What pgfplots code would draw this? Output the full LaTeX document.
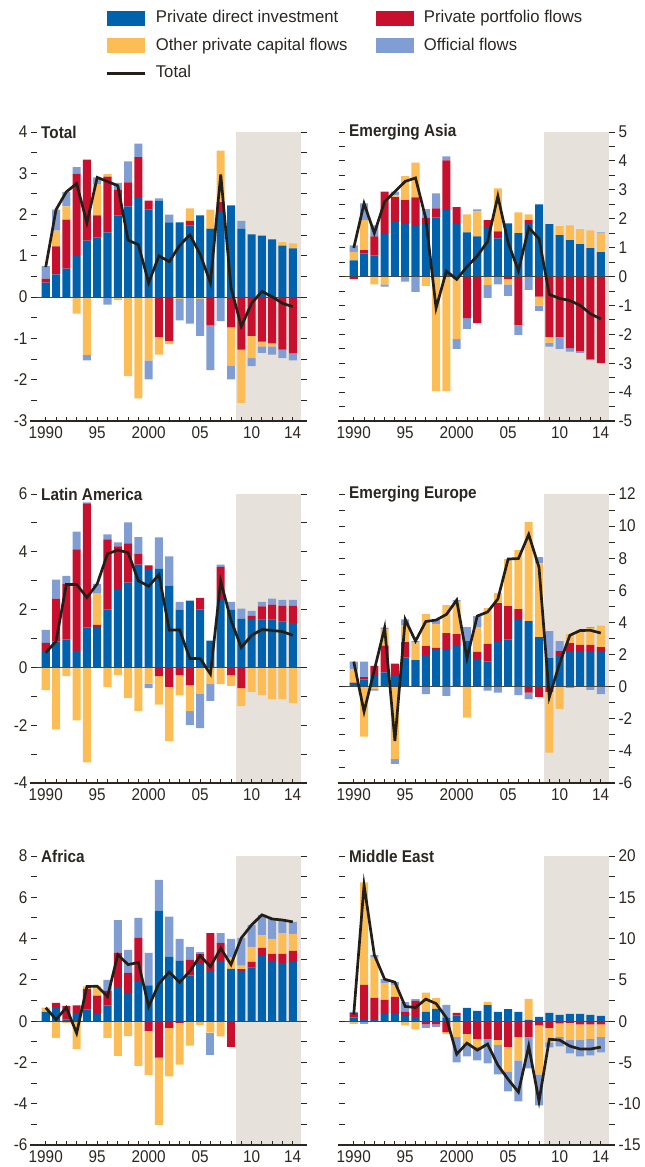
\documentclass[border=0pt]{standalone}
\usepackage{pgfplots}
\pgfplotsset{compat=1.18}
\usepackage{pgfplotstable}
\usepackage{fontspec}
\setmainfont{Liberation Sans}[FakeStretch=0.9]
\newfontfamily\legfont{Liberation Sans}[FakeStretch=0.98]

\definecolor{pdi}{HTML}{0061AD}
\definecolor{ppf}{HTML}{C8102E}
\definecolor{opc}{HTML}{FDBD56}
\definecolor{ofl}{HTML}{809ED3}
\definecolor{shadec}{HTML}{E6E2DB}
\definecolor{totc}{HTML}{231F18}
\definecolor{txtc}{HTML}{2B2620}
\definecolor{zeroc}{HTML}{4A4640}

\newcommand{\chartfont}{\fontsize{17pt}{19pt}\selectfont}

% year, positive parts (direct, portfolio, other, official), negative parts, total
\pgfplotstableread{
year dp pp op fp pn on fn tot
1990 0.35 0.10 0 0.30 0 -0.02 0 0.73
1991 0.55 0.68 0.38 0.51 0 0 0 2.12
1992 0.69 1.19 0.32 0.35 0 0 0 2.55
1993 1.00 1.99 0 0.16 0 -0.40 0 2.75
1994 1.37 1.96 0 0 0 -1.40 -0.13 1.80
1995 1.44 0.54 0.76 0.16 0 0 0 2.90
1996 1.57 1.35 0.06 0 0 0 -0.18 2.80
1997 1.98 0.62 0 0.17 0 -0.07 0 2.70
1998 2.20 0.58 0 0.51 0 -1.91 0 1.38
1999 2.42 0.97 0 0.33 0 -2.45 0 1.27
2000 2.12 0.22 0 0 0 -1.53 -0.46 0.35
2001 2.34 0 0 0.05 -0.97 -0.42 0 1.00
2002 1.81 0 0 0.19 -1.06 -0.08 0 0.86
2003 1.81 0 0 0 0 -0.04 -0.52 1.25
2004 1.73 0.12 0.30 0 0 0 -0.64 1.51
2005 1.98 0 0 0 0 -0.04 -0.90 1.04
2006 1.66 0 0.46 0 -0.68 0 -1.09 0.35
2007 2.06 0.24 1.25 0 0 0 -0.58 2.97
2008 2.22 0 0 0 -0.73 -0.92 -0.34 0.23
2009 1.66 0 0 0.19 -1.27 -1.29 0 -0.71
2010 1.52 0 0 0 -0.94 -0.54 -0.19 -0.15
2011 1.49 0 0 0 -1.08 -0.11 -0.16 0.14
2012 1.40 0 0 0 -1.12 -0.07 -0.20 0.01
2013 1.25 0 0.08 0 -1.27 0 -0.21 -0.15
2014 1.18 0 0.12 0 -1.36 0 -0.17 -0.23
}\tabTotal

\pgfplotstableread{
year dp pp op fp pn on fn tot
1990 0.56 0 0.29 0.23 -0.09 0 0 0.99
1991 0.79 0.12 1.04 0.58 0 0 0 2.53
1992 0.73 0.66 0 0.38 0 -0.27 0 1.50
1993 1.47 1.47 0 0 0 -0.27 -0.08 2.59
1994 1.89 0.86 0.06 0.13 0 0 0 2.94
1995 1.82 0.82 0.83 0 0 0 -0.18 3.29
1996 1.75 0.99 1.20 0 0 0 -0.53 3.41
1997 1.82 0.22 0 0.29 0 -0.32 0 2.01
1998 2.05 0.31 0 0.52 0 -3.97 0 -1.09
1999 2.30 1.72 0 0.14 0 -3.97 0 0.19
2000 1.81 0.59 0 0 0 -2.17 -0.33 -0.10
2001 1.53 0 0.62 0 -1.44 0 -0.37 0.34
2002 1.39 0 0.86 0.07 -1.61 0 0 0.71
2003 1.67 0.28 0 0 0 -0.30 -0.44 1.21
2004 1.32 0.24 1.49 0 0 0 -0.27 2.78
2005 1.84 0 0 0 -0.09 -0.18 -0.40 1.17
2006 1.50 0 0.72 0 -1.67 0 -0.35 0.20
2007 1.81 0.14 0.20 0 0 0 -0.46 1.69
2008 2.50 0 0 0 -0.70 -0.31 -0.18 1.31
2009 1.81 0 0 0 -2.09 -0.20 -0.14 -0.62
2010 1.43 0 0.31 0 -2.09 0 -0.41 -0.76
2011 1.26 0 0.51 0 -2.48 0 -0.12 -0.83
2012 1.12 0 0.52 0 -2.58 0 -0.06 -1.00
2013 0.98 0 0.62 0 -2.87 0 -0.02 -1.29
2014 0.84 0 0.66 0.03 -3.00 0 0 -1.47
}\tabAsia

\pgfplotstableread{
year dp pp op fp pn on fn tot
1990 0.56 0.29 0 0.45 0 -0.79 0 0.51
1991 0.90 1.48 0 0.66 0 -2.14 0 0.90
1992 0.97 1.93 0 0.27 0 -0.30 0 2.87
1993 0.57 3.51 0 0.62 0 -1.83 0 2.87
1994 1.38 4.30 0 0.03 0 -3.29 0 2.42
1995 1.40 0.07 1.08 0.34 0 0 0 2.89
1996 2.00 2.43 0 0.17 0 -0.67 0 3.93
1997 2.72 1.47 0 0.14 0 -0.27 0 4.06
1998 2.93 1.36 0 0.73 0 -1.05 0 3.97
1999 3.56 0.38 0 0.57 0 -1.51 0 3.00
2000 3.40 0.13 0 0 0 -0.56 -0.16 2.81
2001 3.41 0 0 1.09 -0.30 -0.99 0 3.21
2002 2.83 0 0 1.01 -0.67 -1.88 0 1.29
2003 2.00 0 0 0.27 -0.27 -0.70 0 1.30
2004 2.31 0 0 0 -0.61 -0.90 -0.49 0.31
2005 2.00 0.41 0 0 0 -0.92 -1.18 0.31
2006 0.93 0 0 0 0 -0.58 -0.58 -0.23
2007 2.36 1.12 0 0.08 0 -0.58 0 2.98
2008 1.99 0 0 0.28 -0.27 -0.37 0 1.63
2009 1.68 0 0 0.35 -0.72 -0.62 0 0.69
2010 1.68 0.10 0 0.18 0 -0.85 0 1.11
2011 1.65 0.46 0 0.16 0 -0.96 0 1.31
2012 1.65 0.52 0 0.21 0 -1.10 0 1.28
2013 1.59 0.54 0 0.21 0 -1.10 0 1.24
2014 1.53 0.60 0 0.21 0 -1.23 0 1.11
}\tabLatam

\pgfplotstableread{
year dp pp op fp pn on fn tot
1990 0.17 0.08 0.85 0.46 0 0 0 1.56
1991 0.46 0.14 0 0.96 0 -3.11 0 -1.55
1992 0.66 0.63 0 0 0 -0.15 -0.10 1.04
1993 0.89 1.66 1.04 0.08 0 0 0 3.67
1994 0.68 0.75 0 0 0 -4.50 -0.31 -3.38
1995 1.83 0.95 1.02 0.39 0 0 0 4.19
1996 1.66 0 1.08 0.10 0 0 0 2.84
1997 1.97 0.56 1.99 0 0 0 -0.46 4.06
1998 2.28 0.13 1.49 0.25 0 0 0 4.15
1999 2.28 1.06 1.74 0 0 0 -0.58 4.50
2000 2.53 0.75 2.01 0.10 0 0 0 5.39
2001 2.84 0 0 0.87 0 -1.93 0 1.78
2002 1.72 0.44 1.55 0.69 0 0 0 4.40
2003 1.56 1.10 2.24 0 0 0 -0.25 4.65
2004 2.84 2.37 0.62 0 0 0 -0.37 5.46
2005 2.95 2.07 2.93 0 0 0 0 7.95
2006 4.15 0.68 3.67 0 0 0 -0.52 7.98
2007 4.09 0 6.16 0 -0.37 0 -0.40 9.48
2008 3.09 0 4.59 0.39 -0.64 0 0 7.43
2009 1.78 0 0 1.68 -0.33 -3.78 0 -0.65
2010 1.91 0.31 0 0.62 0 -1.39 0 1.45
2011 2.16 0.56 0.56 0 0 0 -0.08 3.20
2012 2.16 0.45 0.89 0 0 0 0 3.50
2013 2.16 0.45 1.04 0.06 0 0 -0.20 3.51
2014 2.16 0.31 1.33 0 0 0 -0.46 3.34
}\tabEurope

\pgfplotstableread{
year dp pp op fp pn on fn tot
1990 0.45 0 0.20 0 0 0 0 0.65
1991 0.68 0.21 0 0 0 -0.81 0 0.08
1992 0.08 0.66 0 0 0 -0.08 0 0.66
1993 0.40 0.36 0 0 0 -1.34 0 -0.58
1994 0.56 1.00 0.12 0 0 0 0 1.68
1995 0.35 0.89 0.45 0 0 0 0 1.69
1996 0.76 0.71 0 0.53 0 -0.81 0 1.19
1997 1.66 1.66 0 1.58 0 -1.68 0 3.22
1998 1.37 0.97 0 1.11 0 -0.71 0 2.74
1999 1.95 2.08 0 0.97 0 -2.16 0 2.84
2000 1.73 0 0 1.58 -0.47 -2.13 0 0.71
2001 5.35 0 0 1.49 -1.77 -3.25 0 1.82
2002 3.11 0 0 1.95 -0.32 -2.36 0 2.38
2003 2.92 0 0 1.06 -0.08 -2.02 0 1.88
2004 2.21 0.76 0 0.63 0 -1.18 0 2.42
2005 2.77 0.50 0 0.08 0 -0.18 0 3.17
2006 2.44 1.83 0 0 0 -0.55 -1.08 2.64
2007 2.92 0.87 0 0.48 0 -0.74 0 3.53
2008 2.53 0 0.55 0.90 -1.24 0 0 2.74
2009 2.44 0.08 0.17 1.34 0 0 0 4.03
2010 2.60 0.27 0.73 1.06 0 0 0 4.66
2011 3.16 0.39 0.60 1.00 0 0 0 5.15
2012 2.92 0.34 0.72 0.97 0 0 0 4.95
2013 2.82 0.44 1.01 0.63 0 0 0 4.90
2014 2.87 0.53 0.83 0.58 0 0 0 4.81
}\tabAfrica

\pgfplotstableread{
year dp pp op fp pn on fn tot
1990 0.44 0.56 0 0.13 0 -0.32 0 0.81
1991 0.16 4.24 12.40 0 0 0 -0.32 16.48
1992 0.24 2.58 4.88 0.32 0 0 0 8.02
1993 0.89 1.69 2.02 0.48 0 0 0 5.08
1994 0.89 2.05 1.46 0.32 0 0 0 4.72
1995 0.65 0.48 0 1.17 0 -0.52 0 1.78
1996 0.52 1.94 0 0.20 0 -1.01 0 1.65
1997 1.13 0 2.34 0 -0.40 0 -0.40 2.67
1998 1.49 0 1.33 0 -0.40 0 -0.29 2.13
1999 0.40 0 0 1.58 -1.33 -0.24 0 0.41
2000 0.69 0.31 0 0 0 -1.90 -3.10 -4.00
2001 1.61 0 0 0 -1.53 -1.09 -1.65 -2.66
2002 1.25 0 0 0 -2.14 -0.96 -1.66 -3.51
2003 1.94 0 0.40 0 -2.14 0 -2.98 -2.78
2004 1.13 0 0 0 -2.26 -0.60 -3.59 -5.32
2005 1.45 0 0 0 -3.10 -2.99 -2.41 -7.05
2006 1.13 0 0 0 -1.90 -2.86 -4.96 -8.59
2007 0.16 0 2.54 0 -1.90 0 -3.83 -3.03
2008 0.52 0 0 0 -0.52 -5.93 -3.75 -9.68
2009 1.00 0 0 0 -0.81 -1.77 -0.61 -2.19
2010 0.77 0 0 0 -0.28 -1.62 -1.16 -2.29
2011 0.89 0 0 0 -0.20 -2.06 -1.65 -3.02
2012 0.89 0 0 0 -0.40 -1.86 -2.01 -3.38
2013 0.77 0 0 0 -0.40 -1.74 -2.01 -3.38
2014 0.65 0 0 0 -0.40 -1.50 -1.89 -3.14
}\tabMideast

\pgfplotsset{
  common/.style={scale only axis, width=264pt, height=289pt,
    xmin=1989.15, xmax=2014.8, anchor=north west},
  base/.style={common, axis line style={draw=none}, xtick=\empty,
    ytick pos=both, tick align=outside, major tick length=6pt,
    minor tick length=6pt, minor y tick num=1,
    tick style={txtc, line width=0.9pt},
    tick label style={font=\chartfont, color=txtc},
    /pgf/number format/assume math mode=true},
  bars/.style={common, hide axis, ybar stacked, bar width=0.78,
    every axis plot/.append style={draw=none}},
  top/.style={common, axis line style={draw=none}, ytick=\empty, clip=false,
    xtick={1990,...,2014},
    xticklabels={1990,,,,,95,,,,,2000,,,,,05,,,,,10,,,,14},
    xtick pos=left, tick align=inside, major tick length=4pt,
    tick style={txtc, line width=0.9pt},
    xticklabel style={yshift=-2pt},
    tick label style={font=\chartfont, color=txtc}},
  swatch/.style={legend image code/.code={\fill[##1, draw=none] (0pt,-7.5pt) rectangle (38pt,7.5pt);}},
  swline/.style={legend image code/.code={\draw[##1] (0pt,0pt) -- (38pt,0pt);}},
}

% #1 x, #2 y (pt from top left), #3 table, #4 ymin, #5 ymax, #6 ticks, #7 title, #8 label side
\newcommand{\panel}[8]{%
  \begin{axis}[base, at={(#1pt,-#2pt)}, ymin=#4, ymax=#5, ytick={#6}, yticklabel pos=#8]
    \addplot[fill=shadec, draw=none] coordinates {(2008.45,#4) (2008.45,#5) (2014.8,#5) (2014.8,#4)} -- cycle;
  \end{axis}
  \begin{axis}[bars, at={(#1pt,-#2pt)}, ymin=#4, ymax=#5]
    \addplot[fill=pdi] table[x=year, y=dp] {#3};
    \addplot[fill=ppf] table[x=year, y=pp] {#3};
    \addplot[fill=opc] table[x=year, y=op] {#3};
    \addplot[fill=ofl] table[x=year, y=fp] {#3};
  \end{axis}
  \begin{axis}[bars, at={(#1pt,-#2pt)}, ymin=#4, ymax=#5]
    \addplot[fill=ppf] table[x=year, y=pn] {#3};
    \addplot[fill=opc] table[x=year, y=on] {#3};
    \addplot[fill=ofl] table[x=year, y=fn] {#3};
  \end{axis}
  \begin{axis}[top, at={(#1pt,-#2pt)}, ymin=#4, ymax=#5]
    \addplot[zeroc, line width=0.8pt] coordinates {(1989.15,0) (2014.8,0)};
    \addplot[totc, line width=2.7pt, line join=miter] table[x=year, y=tot] {#3};
    \node[anchor=west, font=\chartfont\bfseries, text=txtc, inner sep=0pt, xshift=4pt]
      at (rel axis cs:0,1) {#7};
  \end{axis}
  \draw[txtc, line width=1.2pt] ([xshift=-7pt]current axis.south west) -- ([xshift=6pt]current axis.south east);
}

\begin{document}
\begin{tikzpicture}
\path[use as bounding box] (0,0) rectangle (645pt,-1167pt);

\begin{axis}[hide axis, scale only axis, width=10pt, height=10pt,
  at={(105pt,-8.5pt)}, anchor=north west, xmin=0, xmax=1, ymin=0, ymax=1,
  legend columns=2, legend cell align=left,
  legend style={at={(0,1)}, anchor=north west, draw=none, fill=none,
    font=\legfont\chartfont, text=txtc, inner sep=0pt, row sep=8.5pt,
    /tikz/every odd column/.append style={column sep=8pt},
    nodes={inner sep=2pt, text height=12pt, text depth=3pt}}]
  \addlegendimage{swatch, fill=pdi}
  \addlegendentry{\makebox[218pt][l]{Private direct investment}}
  \addlegendimage{swatch, fill=ppf}
  \addlegendentry{Private portfolio flows}
  \addlegendimage{swatch, fill=opc}
  \addlegendentry{\makebox[218pt][l]{Other private capital flows}}
  \addlegendimage{swatch, fill=ofl}
  \addlegendentry{Official flows}
  \addlegendimage{swline, totc, line width=2.7pt}
  \addlegendentry{Total}
\end{axis}

\panel{37}{132}{\tabTotal}{-3}{4}{-3,-2,...,4}{Total}{left}
\panel{345}{132}{\tabAsia}{-5}{5}{-5,-4,...,5}{Emerging Asia}{right}
\panel{37}{494}{\tabLatam}{-4}{6}{-4,-2,...,6}{Latin America}{left}
\panel{345}{494}{\tabEurope}{-6}{12}{-6,-4,...,12}{Emerging Europe}{right}
\panel{37}{856}{\tabAfrica}{-6}{8}{-6,-4,...,8}{Africa}{left}
\panel{345}{856}{\tabMideast}{-15}{20}{-15,-10,...,20}{Middle East}{right}
\end{tikzpicture}
\end{document}
